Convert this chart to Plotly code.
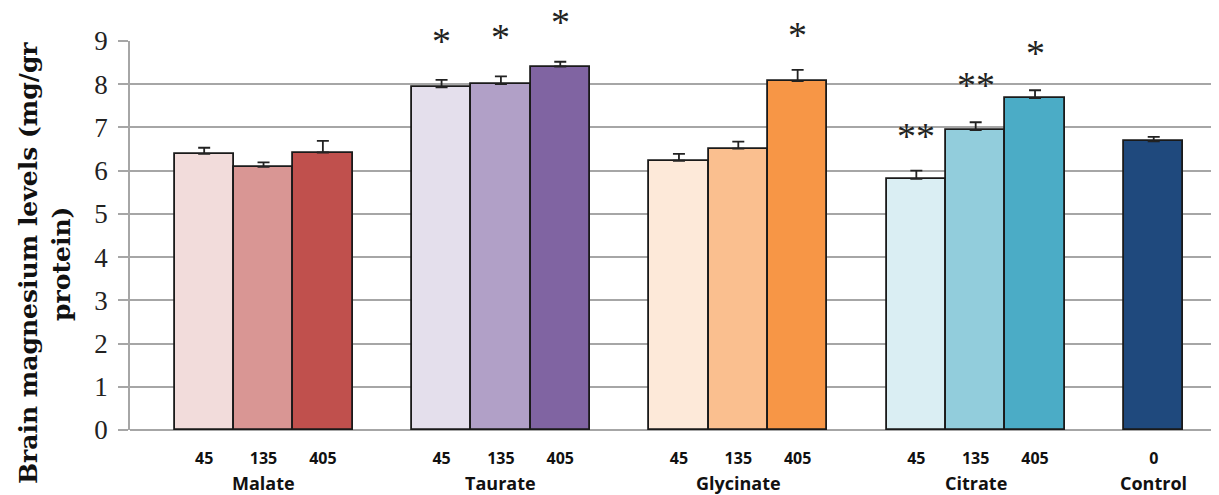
import plotly.graph_objects as go

groups = ["Malate", "Taurate", "Glycinate", "Citrate", "Control"]
doses = [[45, 135, 405], [45, 135, 405], [45, 135, 405], [45, 135, 405], [0]]
values = [[6.39, 6.09, 6.42], [7.93, 8.00, 8.41], [6.23, 6.51, 8.07], [5.81, 6.94, 7.68], [6.68]]
errors = [[0.14, 0.10, 0.27], [0.17, 0.18, 0.11], [0.16, 0.16, 0.26], [0.19, 0.18, 0.18], [0.10]]
colors = [["#F2DCDB", "#D99694", "#C0504D"],
          ["#E4DFEC", "#B1A0C7", "#8064A2"],
          ["#FDE9D9", "#FABF8F", "#F79646"],
          ["#DAEEF3", "#92CDDC", "#4BACC6"],
          ["#1F497D"]]
stars = [["", "", ""], ["*", "*", "*"], ["", "", "*"], ["**", "**", "*"], [""]]
star_y = [[0, 0, 0], [9.01, 9.10, 9.45], [0, 0, 9.15], [6.80, 7.98, 8.72], [0]]
title_lines = ["Brain magnesium levels (mg/gr", "protein)"]

Y_MAX = 9

xs, ys, es, cs, tv, tt = [], [], [], [], [], []
group_centers = []
pos = 0
for g, d, v, e, c in zip(groups, doses, values, errors, colors):
    start = pos
    for di, vi, ei, ci in zip(d, v, e, c):
        xs.append(pos); ys.append(vi); es.append(ei); cs.append(ci)
        tv.append(pos); tt.append(f"<b>{di}</b>")
        pos += 1
    group_centers.append((start + pos - 1) / 2)
    pos += 1

fig = go.Figure()
fig.add_trace(go.Bar(
    x=xs, y=ys, width=1.0,
    marker=dict(color=cs, line=dict(color="#1a1a1a", width=1.8)),
    error_y=dict(type="data", symmetric=False, array=es, arrayminus=[0] * len(es),
                 color="#222222", thickness=1.8, width=6),
    showlegend=False,
))

annotations = []
i = 0
for gi, (d, s, sy) in enumerate(zip(doses, stars, star_y)):
    for j in range(len(d)):
        if s[j]:
            annotations.append(dict(x=xs[i], y=sy[j] / Y_MAX, xref="x", yref="paper", text=s[j],
                                    showarrow=False, font=dict(family="Liberation Serif", size=38, color="#222"),
                                    yanchor="middle"))
        i += 1

for g, gc in zip(groups, group_centers):
    annotations.append(dict(x=gc, y=0, xref="x", yref="paper", text=f"<b>{g}</b>", showarrow=False,
                            yanchor="middle", yshift=-53, font=dict(family="Open Sans", size=18, color="#111")))

for line, xsh, yp in zip(title_lines, [-102, -68], [0.429, 0.427]):
    annotations.append(dict(x=0, y=yp, xref="paper", yref="paper", xanchor="center", yanchor="middle",
                            xshift=xsh, textangle=-90, showarrow=False,
                            text=f"<b>{line}</b>",
                            font=dict(family="DejaVu Serif", size=25, color="#111")))

fig.update_layout(
    width=1211, height=487,
    margin=dict(l=122, r=0, t=33, b=65),
    paper_bgcolor="white", plot_bgcolor="white",
    bargap=0,
    annotations=annotations,
    xaxis=dict(range=[-1.25, 17.1], tickvals=tv, ticktext=tt, showgrid=False, zeroline=False,
               showline=False, ticks="", ticklabelstandoff=17,
               tickfont=dict(family="Open Sans", size=16, color="#111")),
    yaxis=dict(range=[0, Y_MAX], dtick=1, showgrid=True, gridcolor="#a6a6a6", gridwidth=1.5,
               zeroline=True, zerolinecolor="#a6a6a6", zerolinewidth=1.5,
               showline=True, linecolor="#a6a6a6", linewidth=1.5,
               ticks="outside", ticklen=10, tickcolor="#a6a6a6", tickwidth=1.5,
               ticklabelstandoff=5,
               tickfont=dict(family="Liberation Serif", size=27, color="#222")),
)

fig.write_html("out.html")
